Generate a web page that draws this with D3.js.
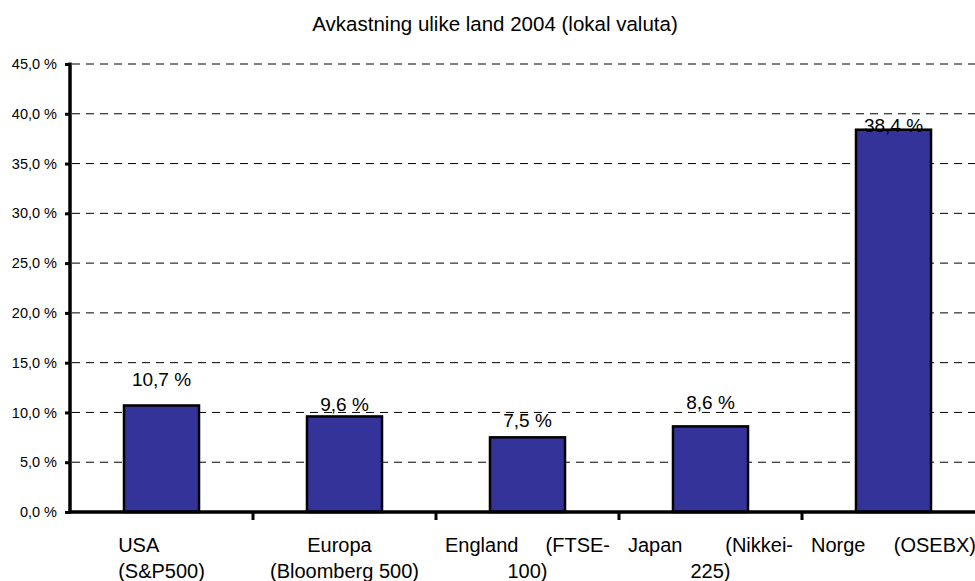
<!DOCTYPE html>
<html>
<head>
<meta charset="utf-8">
<script src="https://cdn.jsdelivr.net/npm/d3@7"></script>
<style>
  body { margin: 0; background: #fff; }
  svg { display: block; font-family: "Liberation Sans", Arial, sans-serif; }
</style>
</head>
<body>
<div id="chart"></div>
<script>
// chart data
const title = 'Avkastning ulike land 2004 (lokal valuta)';
const categories = ['USA (S&P500)', 'Europa (Bloomberg 500)', 'England (FTSE-100)', 'Japan (Nikkei-225)', 'Norge (OSEBX)'];
const categoryLines = [
  ['USA', '(S&P500)'],
  ['Europa', '(Bloomberg 500)'],
  ['England (FTSE-', '100)'],
  ['Japan (Nikkei-', '225)'],
  ['Norge (OSEBX)']
];
const returns = [10.7, 9.6, 7.5, 8.6, 38.4];
const yTicks = [0, 5, 10, 15, 20, 25, 30, 35, 40, 45];

// label lift above bar top (px), as placed in the original
const labelGap = [19, 5, 10, 17, -2];

const width = 975;
const height = 581;
const margin = {top: 64, left: 70, bottom: 69};
const step = 183;

const svg = d3.select('#chart')
  .append('svg')
  .attr('width', width)
  .attr('height', height);

const x = d3.scaleBand()
  .domain(categories)
  .range([margin.left, margin.left + step * categories.length])
  .paddingInner(0.59)
  .paddingOuter(0.295);

const y = d3.scaleLinear()
  .domain([0, 45])
  .range([height - margin.bottom, margin.top]);

const fmt = (v) => d3.format('.1f')(v).replace('.', ',') + ' %';

// title
svg.append('text')
  .attr('x', 495)
  .attr('y', 31)
  .attr('text-anchor', 'middle')
  .style('font-size', '20.5px')
  .text(title);

// gridlines
svg.append('g')
  .selectAll('line')
  .data(yTicks.filter((d) => d > 0))
  .enter()
  .append('line')
  .attr('x1', margin.left + 2)
  .attr('x2', width)
  .attr('y1', (d) => y(d))
  .attr('y2', (d) => y(d))
  .attr('stroke', '#000')
  .attr('stroke-width', 1)
  .attr('stroke-dasharray', '8,6');

// bars
svg.append('g')
  .selectAll('rect')
  .data(returns)
  .enter()
  .append('rect')
  .attr('x', (d, i) => x(categories[i]))
  .attr('y', (d) => y(d))
  .attr('width', x.bandwidth())
  .attr('height', (d) => y(0) - y(d))
  .attr('fill', '#333399')
  .attr('stroke', '#000')
  .attr('stroke-width', 2.5);

// value labels
svg.append('g')
  .selectAll('text')
  .data(returns)
  .enter()
  .append('text')
  .attr('x', (d, i) => x(categories[i]) + x.bandwidth() / 2)
  .attr('y', (d, i) => y(d) - labelGap[i])
  .attr('text-anchor', 'middle')
  .style('font-size', '19px')
  .text((d) => fmt(d));

// y axis
const yAxis = d3.axisLeft(y)
  .tickValues(yTicks)
  .tickSize(5)
  .tickPadding(8)
  .tickFormat(fmt);

const gy = svg.append('g')
  .attr('transform', 'translate(' + margin.left + ',0)')
  .call(yAxis);
gy.select('.domain').remove();
gy.selectAll('.tick line').attr('stroke', '#000').attr('stroke-width', 3);
gy.selectAll('.tick text')
  .attr('fill', '#000')
  .style('font-size', '14.5px')
  .style('font-family', '"Liberation Sans", Arial, sans-serif');
gy.append('line')
  .attr('x1', 0).attr('x2', 0)
  .attr('y1', y(45) - 1.5).attr('y2', y(0) + 1.5)
  .attr('stroke', '#000')
  .attr('stroke-width', 3.5);

// x axis line + ticks between categories
svg.append('line')
  .attr('x1', margin.left)
  .attr('x2', width)
  .attr('y1', y(0))
  .attr('y2', y(0))
  .attr('stroke', '#000')
  .attr('stroke-width', 3.5);

svg.append('g')
  .selectAll('line')
  .data(categories.slice(1))
  .enter()
  .append('line')
  .attr('x1', (d) => x(d) - x.step() * x.paddingInner() / 2)
  .attr('x2', (d) => x(d) - x.step() * x.paddingInner() / 2)
  .attr('y1', y(0))
  .attr('y2', y(0) + 8)
  .attr('stroke', '#000')
  .attr('stroke-width', 3);

// category labels (wrapped, first line justified like the original)
const justifyWidth = 165;
const labelFont = '20px';
const lineY = [552, 578];

categoryLines.forEach((lines, i) => {
  const cx = x(categories[i]) + x.bandwidth() / 2;
  const g = svg.append('g');
  let secondStart = null;

  if (lines[1]) {
    const t2 = g.append('text')
      .attr('x', cx)
      .attr('y', lineY[1])
      .attr('text-anchor', 'middle')
      .style('font-size', labelFont)
      .text(lines[1]);
    secondStart = cx - t2.node().getComputedTextLength() / 2;
  }

  const words = lines[0].split(' ');
  if (words.length > 1) {
    const nodes = words.map((w) => g.append('text')
      .attr('y', lineY[0])
      .style('font-size', labelFont)
      .text(w));
    const widths = nodes.map((n) => n.node().getComputedTextLength());
    const gap = (justifyWidth - d3.sum(widths)) / (words.length - 1);
    let pos = cx - justifyWidth / 2;
    nodes.forEach((n, k) => {
      n.attr('x', pos);
      pos += widths[k] + gap;
    });
  } else if (i === 0 && secondStart !== null) {
    // single word kept flush with the line below
    g.append('text')
      .attr('x', secondStart)
      .attr('y', lineY[0])
      .style('font-size', labelFont)
      .text(lines[0]);
  } else {
    g.append('text')
      .attr('x', cx - 5)
      .attr('y', lineY[0])
      .attr('text-anchor', 'middle')
      .style('font-size', labelFont)
      .text(lines[0]);
  }
});
</script>
</body>
</html>
